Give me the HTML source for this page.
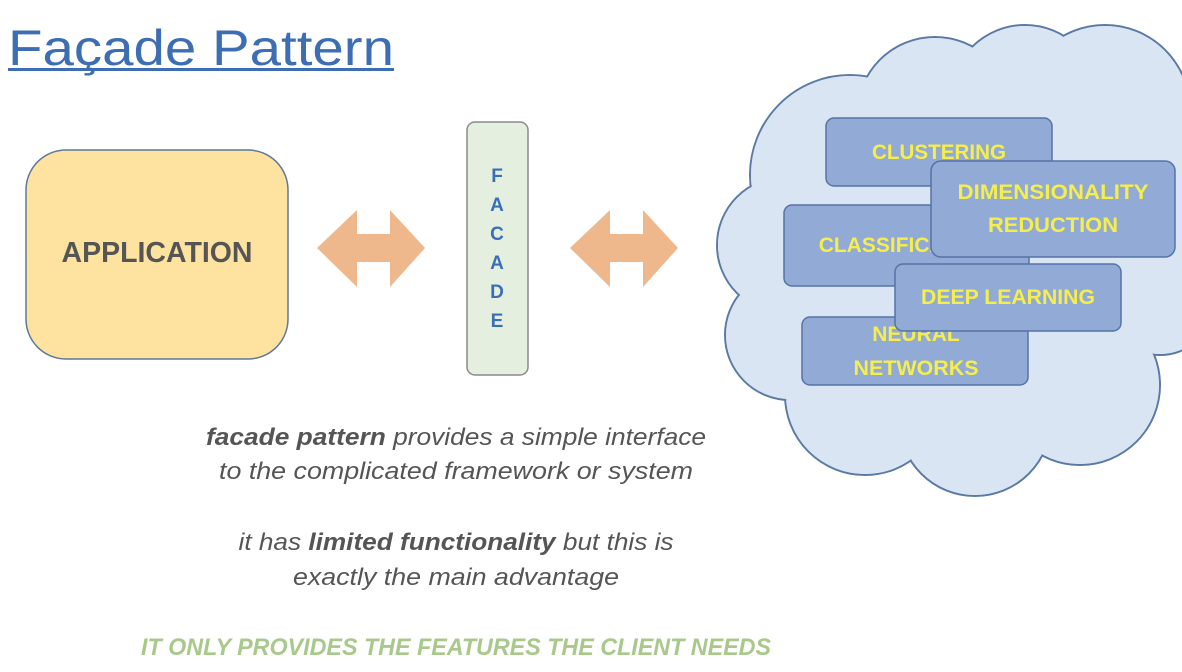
<!DOCTYPE html>
<html><head><meta charset="utf-8"><style>
html,body{margin:0;padding:0;background:#fff;width:1182px;height:672px;overflow:hidden}
svg{display:block}
text{font-family:"Liberation Sans",sans-serif}
</style></head><body>
<svg width="1182" height="672" viewBox="0 0 1182 672">
<text x="8" y="65" font-size="50" fill="#3d6db3" textLength="386" lengthAdjust="spacingAndGlyphs">Façade Pattern</text>
<rect x="8" y="68" width="386" height="3" fill="#3d6db3"/>

<rect x="26" y="150" width="262" height="209" rx="40" fill="#fde39f" stroke="#5d7899" stroke-width="1.5"/>
<text x="157" y="262" font-size="29" font-weight="bold" fill="#555" text-anchor="middle" textLength="191" lengthAdjust="spacingAndGlyphs">APPLICATION</text>

<polygon points="317,248 357,210 357,234 390,234 390,210 425,248 390,287 390,262 357,262 357,287" fill="#efb78c"/>
<polygon points="570,248 610,210 610,234 643,234 643,210 678,248 643,287 643,262 610,262 610,287" fill="#efb78c"/>

<rect x="467" y="122" width="61" height="253" rx="8" fill="#e5efdf" stroke="#8a8a8a" stroke-width="1.5"/>
<g font-size="19" font-weight="bold" fill="#3a6fb8" text-anchor="middle">
<text x="497" y="182">F</text><text x="497" y="211">A</text><text x="497" y="240">C</text>
<text x="497" y="269">A</text><text x="497" y="298">D</text><text x="497" y="327">E</text>
</g>

<g stroke="#5b7aa3" stroke-width="2" fill="#dae5f4">
<circle cx="850" cy="175" r="100"/><circle cx="935" cy="115" r="78"/><circle cx="1025" cy="100" r="75"/>
<circle cx="1105" cy="110" r="85"/><circle cx="1170" cy="210" r="95"/><circle cx="1160" cy="300" r="55"/>
<circle cx="1080" cy="385" r="80"/><circle cx="975" cy="420" r="76"/><circle cx="865" cy="395" r="80"/>
<circle cx="790" cy="335" r="65"/><circle cx="785" cy="245" r="68"/>
</g>
<g fill="#dae5f4">
<circle cx="850" cy="175" r="99"/><circle cx="935" cy="115" r="77"/><circle cx="1025" cy="100" r="74"/>
<circle cx="1105" cy="110" r="84"/><circle cx="1170" cy="210" r="94"/><circle cx="1160" cy="300" r="54"/>
<circle cx="1080" cy="385" r="79"/><circle cx="975" cy="420" r="75"/><circle cx="865" cy="395" r="79"/>
<circle cx="790" cy="335" r="64"/><circle cx="785" cy="245" r="67"/>
<circle cx="965" cy="260" r="175"/>
</g>

<g stroke="#5673a6" stroke-width="1.5" fill="#91aad6">
<rect x="826" y="118" width="226" height="68" rx="8"/>
</g>
<g font-size="21" font-weight="bold" fill="#f6ee4c" text-anchor="middle">
<text x="939" y="159" textLength="134" lengthAdjust="spacingAndGlyphs">CLUSTERING</text>
</g>
<rect x="784" y="205" width="245" height="81" rx="8" stroke="#5673a6" stroke-width="1.5" fill="#91aad6"/>
<text x="906" y="252" font-size="21" font-weight="bold" fill="#f6ee4c" text-anchor="middle">CLASSIFICATION</text>
<rect x="931" y="161" width="244" height="96" rx="10" stroke="#5673a6" stroke-width="1.5" fill="#91aad6"/>
<text x="1053" y="199" font-size="21" font-weight="bold" fill="#f6ee4c" text-anchor="middle" textLength="191" lengthAdjust="spacingAndGlyphs">DIMENSIONALITY</text>
<text x="1053" y="232" font-size="21" font-weight="bold" fill="#f6ee4c" text-anchor="middle" textLength="130" lengthAdjust="spacingAndGlyphs">REDUCTION</text>
<rect x="802" y="317" width="226" height="68" rx="8" stroke="#5673a6" stroke-width="1.5" fill="#91aad6"/>
<text x="916" y="341" font-size="21" font-weight="bold" fill="#f6ee4c" text-anchor="middle">NEURAL</text>
<text x="916" y="375" font-size="21" font-weight="bold" fill="#f6ee4c" text-anchor="middle" textLength="125" lengthAdjust="spacingAndGlyphs">NETWORKS</text>
<rect x="895" y="264" width="226" height="67" rx="8" stroke="#5673a6" stroke-width="1.5" fill="#91aad6"/>
<text x="1008" y="304" font-size="21" font-weight="bold" fill="#f6ee4c" text-anchor="middle" textLength="174" lengthAdjust="spacingAndGlyphs">DEEP LEARNING</text>

<g font-size="24" font-style="italic" fill="#555" text-anchor="middle">
<text x="456" y="445" textLength="500" lengthAdjust="spacingAndGlyphs"><tspan font-weight="bold">facade pattern</tspan> provides a simple interface</text>
<text x="456" y="479" textLength="474" lengthAdjust="spacingAndGlyphs">to the complicated framework or system</text>
<text x="456" y="550" textLength="435" lengthAdjust="spacingAndGlyphs">it has <tspan font-weight="bold">limited functionality</tspan> but this is</text>
<text x="456" y="585" textLength="326" lengthAdjust="spacingAndGlyphs">exactly the main advantage</text>
</g>
<text x="456" y="655" font-size="24" font-style="italic" font-weight="bold" fill="#a9c98c" text-anchor="middle" textLength="630" lengthAdjust="spacingAndGlyphs">IT ONLY PROVIDES THE FEATURES THE CLIENT NEEDS</text>
</svg>
</body></html>
